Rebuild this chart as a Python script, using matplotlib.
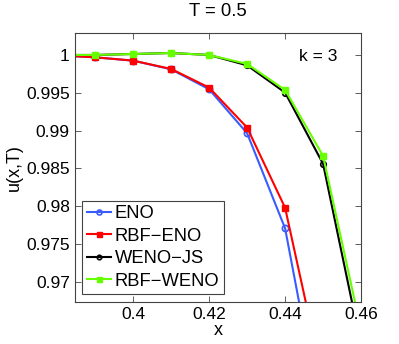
import matplotlib
matplotlib.use("Agg")
import matplotlib.pyplot as plt

plt.rcParams['font.family'] = ['Liberation Sans', 'DejaVu Sans']

x = [0.38, 0.39, 0.40, 0.41, 0.42, 0.43, 0.44, 0.45, 0.46]
eno = [0.99995, 0.99969, 0.99925, 0.99810, 0.99546, 0.98964, 0.97705, 0.95055, 0.92]
rbf_eno = [0.99995, 0.99969, 0.99925, 0.99815, 0.99568, 0.99039, 0.97978, 0.95684, 0.93]
weno_js = [1.0, 1.0, 1.00013, 1.00026, 1.0, 0.99863, 0.99502, 0.98558, 0.96153]
rbf_weno = [1.0, 1.0, 1.00013, 1.00026, 1.0, 0.99881, 0.99537, 0.98664, 0.9636]

labels = ['ENO', 'RBF\u2212ENO', 'WENO\u2212JS', 'RBF\u2212WENO']
xticks = [0.40, 0.42, 0.44, 0.46]
yticks = [0.97, 0.975, 0.98, 0.985, 0.99, 0.995, 1.0]
ytick_labels = ['0.97', '0.975', '0.98', '0.985', '0.99', '0.995', '1']

fig = plt.figure(figsize=(3.99, 3.44), dpi=100)
ax = fig.add_axes([0.187, 0.123, 0.718, 0.782])

ax.plot(x, eno, color='#3a5cff', marker='o', ms=4.5, mfc='none', mew=1.2, lw=1.5, label=labels[0])
ax.plot(x, rbf_eno, color='#ff0000', marker='s', ms=4.5, lw=1.5, label=labels[1])
ax.plot(x, weno_js, color='black', marker='o', ms=4, mfc='none', mew=1.2, lw=1.5, label=labels[2])
ax.plot(x, rbf_weno, color='#66ff00', marker='s', ms=4.5, lw=1.5, label=labels[3])

ax.set_xlim(0.3846, 0.46)
ax.set_ylim(0.96735, 1.00295)
ax.set_xticks(xticks)
ax.set_xticklabels(['0.4', '0.42', '0.44', '0.46'])
ax.set_yticks(yticks)
ax.set_yticklabels(ytick_labels)
ax.tick_params(direction='in', top=True, right=True, labelsize=12.5, length=4, width=0.6, colors='#444444', labelcolor='black')
for s in ax.spines.values():
    s.set_color('#444444')
    s.set_linewidth(0.8)

ax.set_xlabel('x', fontsize=13, labelpad=0)
ax.set_ylabel('u(x,T)', fontsize=13, labelpad=2)
ax.set_title('T = 0.5', fontsize=13.3, pad=12)
ax.text(0.782, 0.91, 'k = 3', transform=ax.transAxes, fontsize=12.5, ha='left', va='center')

leg = ax.legend(loc='lower left', fontsize=13.2, handlelength=1.35, handletextpad=0.2,
                borderaxespad=0.4, borderpad=0.25, labelspacing=0.3, fancybox=False,
                framealpha=1, edgecolor='#444444', markerscale=0.8)
leg.get_frame().set_linewidth(0.8)

fig.savefig('out.png', dpi=100)
